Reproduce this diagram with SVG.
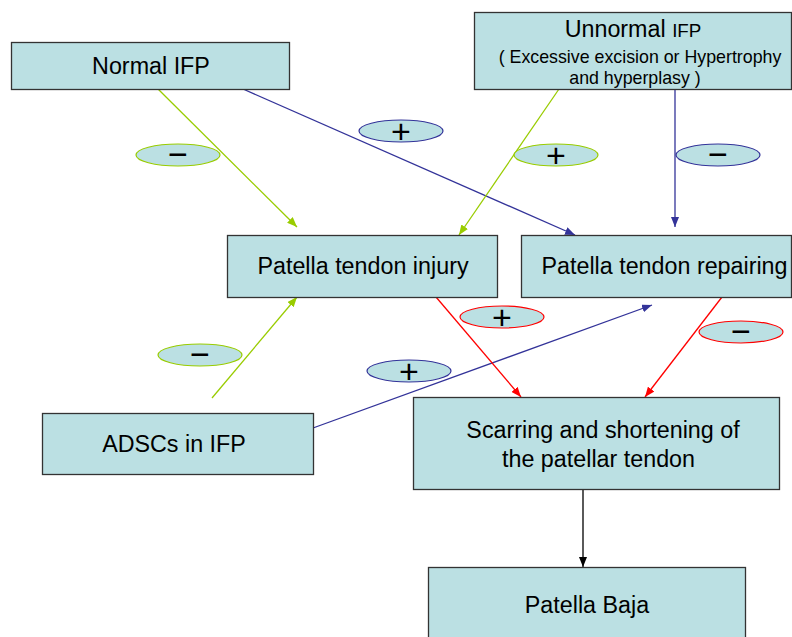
<svg xmlns="http://www.w3.org/2000/svg" width="792" height="637" viewBox="0 0 792 637">
<style>
.box{fill:#BBE0E3;stroke:#333;stroke-width:1.3}
.t{font-family:"Liberation Sans",Arial,sans-serif;fill:#000;text-anchor:middle}
.big{font-size:23.3px}
.sm{font-size:17.8px}
.sign{font-family:"Liberation Sans",Arial,sans-serif;font-size:34px;text-anchor:middle;fill:#000}
.ov{fill:#BBE0E3;stroke-width:1.2}
.g{stroke:#99CC00}
.b{stroke:#333399}
.r{stroke:#FF0000}
.k{stroke:#000}
.ln{fill:none;stroke-width:1.3}
</style>
<defs>
<marker id="ag" markerUnits="userSpaceOnUse" markerWidth="10" markerHeight="8" refX="10" refY="4" orient="auto"><path d="M0,0L10,4L0,8z" fill="#99CC00"/></marker>
<marker id="ab" markerUnits="userSpaceOnUse" markerWidth="10" markerHeight="8" refX="10" refY="4" orient="auto"><path d="M0,0L10,4L0,8z" fill="#333399"/></marker>
<marker id="ar" markerUnits="userSpaceOnUse" markerWidth="10" markerHeight="8" refX="10" refY="4" orient="auto"><path d="M0,0L10,4L0,8z" fill="#FF0000"/></marker>
<marker id="ak" markerUnits="userSpaceOnUse" markerWidth="10" markerHeight="8" refX="10" refY="4" orient="auto"><path d="M0,0L10,4L0,8z" fill="#000"/></marker>
</defs>
<rect width="792" height="637" fill="#fff"/>
<g id="connectors">
<line class="ln g" x1="158" y1="89" x2="297" y2="227" marker-end="url(#ag)"/>
<line class="ln b" x1="243" y1="89" x2="575" y2="235" marker-end="url(#ab)"/>
<line class="ln g" x1="559" y1="89" x2="459" y2="235" marker-end="url(#ag)"/>
<line class="ln b" x1="675" y1="89" x2="675" y2="227" marker-end="url(#ab)"/>
<line class="ln g" x1="212" y1="398" x2="297" y2="297" marker-end="url(#ag)"/>
<line class="ln b" x1="313" y1="428" x2="652" y2="305" marker-end="url(#ab)"/>
<line class="ln r" x1="436" y1="297" x2="521" y2="397" marker-end="url(#ar)"/>
<line class="ln r" x1="722" y1="297" x2="645" y2="397" marker-end="url(#ar)"/>
<line class="ln k" x1="583" y1="490" x2="583" y2="567" marker-end="url(#ak)"/>
</g>
<g id="n-normal">
<rect class="box" x="11.5" y="42.5" width="278" height="47"/>
<text class="t big" x="151" y="74">Normal IFP</text>
</g>
<g id="n-unnormal">
<rect class="box" x="474.5" y="12.5" width="317" height="77"/>
<text class="t" x="633" y="37"><tspan font-size="23.3px">Unnormal </tspan><tspan font-size="18.8px"> IFP</tspan></text>
<text class="t sm" x="640" y="63">( Excessive  excision or Hypertrophy</text>
<text class="t sm" x="635" y="84">and hyperplasy )</text>
</g>
<g id="n-injury">
<rect class="box" x="227.5" y="235.5" width="270" height="62"/>
<text class="t big" x="363" y="274">Patella tendon injury</text>
</g>
<g id="n-repairing">
<rect class="box" x="521.5" y="235.5" width="270" height="62"/>
<text class="t big" x="664.5" y="274">Patella tendon repairing</text>
</g>
<g id="n-adscs">
<rect class="box" x="42.5" y="413.5" width="271" height="61"/>
<text class="t big" x="174" y="452">ADSCs in IFP</text>
</g>
<g id="n-scarring">
<rect class="box" x="413.5" y="397.5" width="366" height="92"/>
<text class="t big" x="603" y="438">Scarring and shortening of</text>
<text class="t big" x="598.5" y="467">the patellar tendon</text>
</g>
<g id="n-baja">
<rect class="box" x="428.5" y="567.5" width="317" height="80"/>
<text class="t big" x="587" y="613">Patella Baja</text>
</g>
<g id="signs">
<ellipse class="ov g" cx="178" cy="155" rx="42" ry="11"/>
<text class="sign" x="178" y="166">−</text>
<ellipse class="ov b" cx="401" cy="131" rx="42" ry="11"/>
<text class="sign" x="401" y="143">+</text>
<ellipse class="ov g" cx="556" cy="155" rx="42" ry="11"/>
<text class="sign" x="556" y="167">+</text>
<ellipse class="ov b" cx="718" cy="155" rx="42" ry="11"/>
<text class="sign" x="718" y="166">−</text>
<ellipse class="ov r" cx="502" cy="317" rx="42" ry="11"/>
<text class="sign" x="502" y="329">+</text>
<ellipse class="ov r" cx="741" cy="332" rx="42" ry="11"/>
<text class="sign" x="741" y="343">−</text>
<ellipse class="ov g" cx="200" cy="355" rx="42" ry="11"/>
<text class="sign" x="200" y="366">−</text>
<ellipse class="ov b" cx="409" cy="371" rx="42" ry="11"/>
<text class="sign" x="409" y="383">+</text>
</g>
</svg>
